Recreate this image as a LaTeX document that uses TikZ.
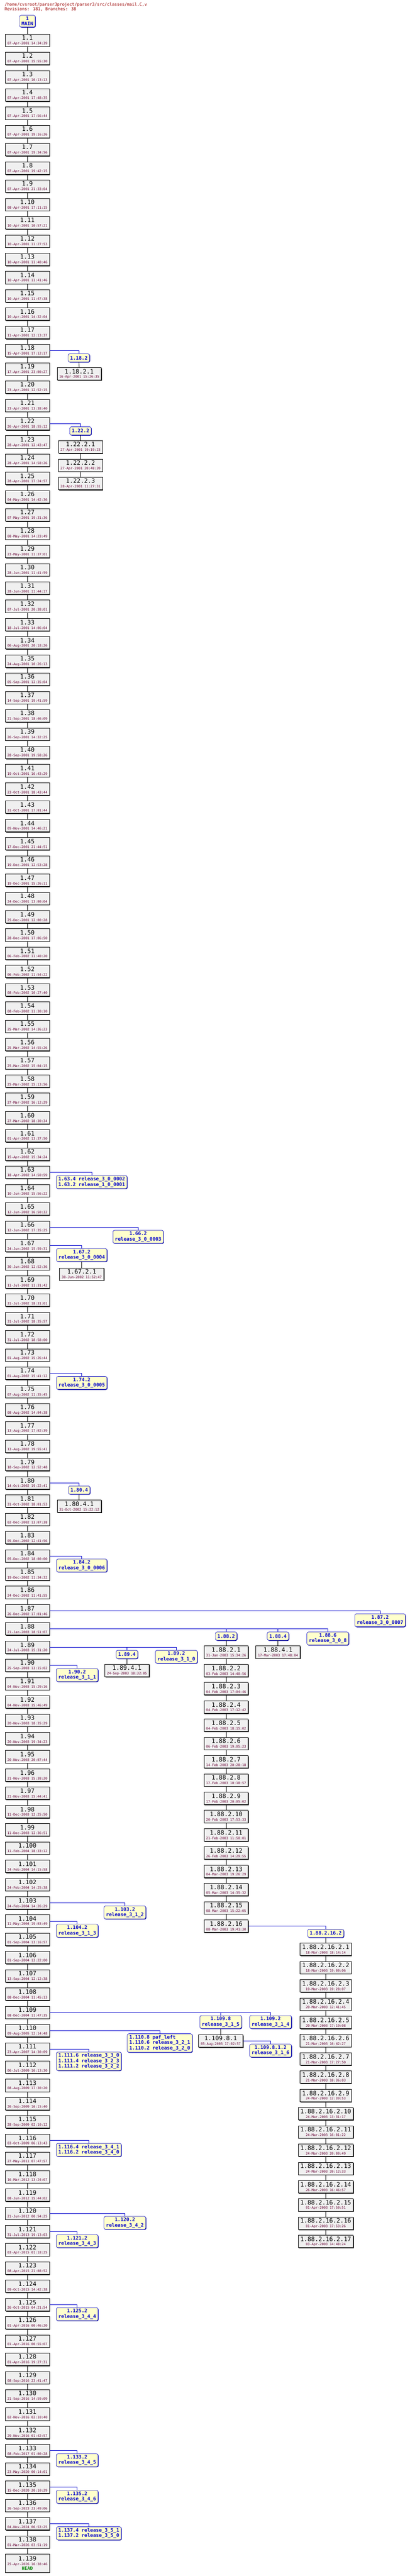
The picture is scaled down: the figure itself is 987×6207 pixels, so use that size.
\documentclass[tikz,border=0pt]{standalone}
\usepackage{fontspec}
\usetikzlibrary{shadows}
\newfontfamily\monof{DejaVu Sans Mono}
\definecolor{boxfill}{HTML}{F0F0F0}
\definecolor{datered}{HTML}{660033}
\definecolor{tagfill}{HTML}{FFFFCC}
\definecolor{tagblue}{HTML}{0000CC}
\definecolor{hdrred}{HTML}{990000}
\definecolor{headgreen}{HTML}{008000}
\tikzset{
  rev/.style={draw=black, line width=1pt, fill=boxfill, inner xsep=5pt, inner ysep=1pt,
    minimum height=30pt, align=center,
    drop shadow={shadow xshift=1.5pt, shadow yshift=-1.5pt, fill=black, opacity=1}},
  tag/.style={draw=tagblue, line width=0.8pt, fill=tagfill, rounded corners=4pt,
    inner xsep=5pt, inner ysep=3.5pt, minimum height=20pt, text=tagblue,
    font=\monof\bfseries\fontsize{11.6}{13}\selectfont,
    drop shadow={shadow xshift=1.2pt, shadow yshift=-1.2pt, fill=tagblue!70!black, opacity=1}},
  br/.style={draw=tagblue, line width=0.9pt},
  tr/.style={draw=black, line width=0.9pt}
}
\newcommand\revtxt[2]{{\monof\fontsize{14.5}{12}\selectfont #1}\\[-1pt]{\monof\fontsize{8}{8}\selectfont\color{datered}#2}}
\newcommand\rv[5]{\node[rev] (#1) at (#2,#3) {\revtxt{#4}{#5}};}
\begin{document}
\begin{tikzpicture}[x=1pt,y=-1pt]
\useasboundingbox (0,0) rectangle (987,6207);
\node[anchor=north west, align=left, text=hdrred, inner sep=0pt,
  font=\monof\fontsize{10}{12}\selectfont] (hdr) at (11,6)
  {/home/cvsroot/parser3project/parser3/src/classes/mail.C,v\\Revisions: 181, Branches: 38};
\node[tag, align=center] (main) at (66,51) {1\\MAIN};
\foreach \n/\d in {1/07-Apr-2001 14:34:39,2/07-Apr-2001 15:55:30,3/07-Apr-2001 16:13:13,4/07-Apr-2001 17:48:35,5/07-Apr-2001 17:56:44,6/07-Apr-2001 19:16:26,7/07-Apr-2001 19:34:56,8/07-Apr-2001 19:42:15,9/07-Apr-2001 21:33:04,10/08-Apr-2001 17:11:15,
11/10-Apr-2001 10:57:21,12/10-Apr-2001 11:27:53,13/10-Apr-2001 11:40:46,14/10-Apr-2001 11:41:46,15/10-Apr-2001 11:47:38,16/10-Apr-2001 14:32:04,17/11-Apr-2001 12:13:37,18/15-Apr-2001 17:12:17,19/17-Apr-2001 23:00:27,20/23-Apr-2001 12:52:15,
21/23-Apr-2001 13:38:40,22/26-Apr-2001 18:55:12,23/28-Apr-2001 12:43:47,24/28-Apr-2001 14:58:26,25/28-Apr-2001 17:24:57,26/04-May-2001 14:42:36,27/07-May-2001 19:31:36,28/08-May-2001 14:23:49,29/23-May-2001 11:37:01,30/28-Jun-2001 11:41:59,
31/28-Jun-2001 11:44:17,32/07-Jul-2001 20:38:01,33/18-Jul-2001 14:06:04,34/06-Aug-2001 20:18:26,35/24-Aug-2001 10:26:13,36/05-Sep-2001 12:35:04,37/14-Sep-2001 19:41:59,38/21-Sep-2001 18:46:09,39/26-Sep-2001 14:32:25,40/28-Sep-2001 19:58:26,
41/19-Oct-2001 16:43:29,42/23-Oct-2001 18:43:44,43/31-Oct-2001 17:01:44,44/05-Nov-2001 14:46:21,45/17-Dec-2001 21:44:51,46/19-Dec-2001 12:53:28,47/19-Dec-2001 15:26:11,48/24-Dec-2001 13:00:04,49/25-Dec-2001 12:00:28,50/28-Dec-2001 17:06:50,
51/06-Feb-2002 11:40:20,52/06-Feb-2002 11:54:22,53/08-Feb-2002 10:27:40,54/08-Feb-2002 11:30:10,55/25-Mar-2002 14:36:23,56/25-Mar-2002 14:55:26,57/25-Mar-2002 15:04:15,58/25-Mar-2002 15:13:56,59/27-Mar-2002 16:12:29,60/27-Mar-2002 18:30:34,
61/01-Apr-2002 13:37:50,62/15-Apr-2002 15:34:24,63/18-Apr-2002 14:50:59,64/10-Jun-2002 15:56:22,65/12-Jun-2002 16:50:32,66/12-Jun-2002 17:35:25,67/24-Jun-2002 15:59:31,68/30-Jun-2002 12:52:36,69/11-Jul-2002 11:31:42,70/31-Jul-2002 18:31:01,
71/31-Jul-2002 18:35:57,72/31-Jul-2002 18:58:00,73/01-Aug-2002 15:26:44,74/01-Aug-2002 15:41:12,75/07-Aug-2002 11:35:45,76/08-Aug-2002 14:04:38,77/13-Aug-2002 17:02:39,78/13-Aug-2002 19:55:41,79/18-Sep-2002 12:52:48,80/14-Oct-2002 19:22:41,
81/31-Oct-2002 18:01:53,82/02-Dec-2002 13:07:38,83/05-Dec-2002 12:41:56,84/05-Dec-2002 18:00:00,85/19-Dec-2002 11:34:32,86/24-Dec-2002 11:41:55,87/26-Dec-2002 17:01:46,88/21-Jan-2003 18:51:07,89/24-Jul-2003 15:31:20,90/25-Sep-2003 13:15:02,
91/04-Nov-2003 15:29:16,92/04-Nov-2003 15:46:49,93/20-Nov-2003 18:35:29,94/20-Nov-2003 19:34:23,95/20-Nov-2003 20:07:44,96/21-Nov-2003 15:38:20,97/21-Nov-2003 15:44:41,98/11-Dec-2003 12:25:50,99/11-Dec-2003 12:36:51,100/11-Feb-2004 18:33:12,
101/24-Feb-2004 14:15:58,102/24-Feb-2004 14:25:38,103/24-Feb-2004 14:26:29,104/11-May-2004 19:03:49,105/01-Sep-2004 13:16:57,106/01-Sep-2004 13:22:00,107/13-Sep-2004 12:12:38,108/08-Dec-2004 11:45:13,109/08-Dec-2004 11:47:35,110/09-Aug-2005 12:14:48,
111/23-Apr-2007 14:30:09,112/06-Jul-2009 16:13:30,113/08-Aug-2009 17:30:20,114/26-Sep-2009 16:15:40,115/28-Sep-2009 02:10:12,116/03-Oct-2009 06:13:43,117/27-May-2011 07:47:57,118/16-Mar-2012 13:24:07,119/08-Jun-2012 15:44:02,120/21-Jun-2012 00:54:25,
121/31-Jul-2013 19:13:03,122/03-Apr-2015 01:18:25,123/08-Apr-2015 21:08:52,124/09-Oct-2015 14:42:38,125/26-Oct-2015 04:21:54,126/01-Apr-2016 00:46:20,127/01-Apr-2016 00:55:07,128/01-Apr-2016 19:27:31,129/08-Sep-2016 23:41:47,130/21-Sep-2016 14:59:09,
131/02-Nov-2016 02:10:40,132/29-Nov-2016 01:42:57,133/08-Feb-2017 01:00:28,134/23-May-2020 00:14:01,135/15-Dec-2020 20:10:29,136/26-Sep-2023 23:49:06,137/04-Nov-2024 06:53:25,138/01-Mar-2026 03:51:19}
{ \pgfmathsetmacro\yy{97+(\n-1)*44}
  \node[rev] (r\n) at (66,\yy) {\revtxt{1.\n}{\d}}; }
\node[rev, anchor=north, minimum height=44pt] (r139) at (66,6154)
  {\revtxt{1.139}{25-Apr-2026 16:38:46}\\[-1pt]{\monof\bfseries\fontsize{11}{12}\selectfont\color{headgreen}HEAD}};
\draw[tr] (main.south) -- (r1.north);
\foreach \n [evaluate=\n as \m using int(\n+1)] in {1,...,138} { \draw[tr] (r\n.south) -- (r\m.north); }
% 1.18
\node[tag, anchor=north] (t18) at (190,852) {1.18.2};
\draw[br] (r18.east) -| (t18.north);
\rv{b18}{191}{901}{1.18.2.1}{16-Apr-2001 15:26:35}
\draw[tr] (t18.south) -- (b18.north);
% 1.22
\node[tag, anchor=north] (t22) at (194,1028) {1.22.2};
\draw[br] (r22.east) -| (t22.north);
\rv{b22a}{194}{1077}{1.22.2.1}{27-Apr-2001 19:19:23}
\rv{b22b}{194}{1121}{1.22.2.2}{27-Apr-2001 20:48:20}
\rv{b22c}{194}{1165}{1.22.2.3}{28-Apr-2001 11:27:31}
\draw[tr] (t22.south) -- (b22a.north) (b22a.south) -- (b22b.north) (b22b.south) -- (b22c.north);
% 1.63
\node[tag, anchor=north, align=left] (t63) at (221,2832) {1.63.4 release\_3\_0\_0002\\1.63.2 release\_1\_0\_0001};
\draw[br] (r63.east) -| (t63.north);
% 1.66
\node[tag, anchor=north, align=center] (t66) at (333,2964) {1.66.2\\release\_3\_0\_0003};
\draw[br] (r66.east) -| (t66.north);
% 1.67
\node[tag, anchor=north, align=center] (t67) at (197,3008) {1.67.2\\release\_3\_0\_0004};
\draw[br] (r67.east) -| (t67.north);
\rv{b67}{197}{3070}{1.67.2.1}{30-Jun-2002 11:52:47}
\draw[tr] (t67.south) -- (b67.north);
% 1.74
\node[tag, anchor=north, align=center] (t74) at (197,3316) {1.74.2\\release\_3\_0\_0005};
\draw[br] (r74.east) -| (t74.north);
% 1.80
\node[tag, anchor=north] (t80) at (191,3580) {1.80.4};
\draw[br] (r80.east) -| (t80.north);
\rv{b80}{191}{3629}{1.80.4.1}{31-Oct-2002 15:22:12}
\draw[tr] (t80.south) -- (b80.north);
% 1.84
\node[tag, anchor=north, align=center] (t84) at (197,3756) {1.84.2\\release\_3\_0\_0006};
\draw[br] (r84.east) -| (t84.north);
% 1.87
\node[tag, anchor=north, align=center] (t87) at (916,3888) {1.87.2\\release\_3\_0\_0007};
\draw[br] (r87.east) -| (t87.north);
% 1.88
\node[tag, anchor=north] (t88a) at (545,3932) {1.88.2};
\node[tag, anchor=north] (t88b) at (670,3932) {1.88.4};
\node[tag, anchor=north, align=center] (t88c) at (790,3932) {1.88.6\\release\_3\_0\_8};
\draw[br] (r88.east) -| (t88a.north);
\draw[br] (r88.east) -| (t88b.north);
\draw[br] (r88.east) -| (t88c.north);
\foreach \k/\d in {1/31-Jan-2003 15:34:26,2/03-Feb-2003 14:40:56,3/04-Feb-2003 17:04:46,4/04-Feb-2003 17:12:42,5/04-Feb-2003 18:15:02,6/06-Feb-2003 19:05:23,7/14-Feb-2003 20:28:18,8/17-Feb-2003 10:18:57,9/17-Feb-2003 20:05:02,10/20-Feb-2003 17:53:33,11/21-Feb-2003 11:50:01,12/26-Feb-2003 14:29:55,13/04-Mar-2003 19:26:29,14/05-Mar-2003 14:35:32,15/08-Mar-2003 15:22:05,16/08-Mar-2003 19:41:30}
{ \pgfmathsetmacro\yy{3981+(\k-1)*44}
  \node[rev] (c\k) at (545,\yy) {\revtxt{1.88.2.\k}{\d}}; }
\draw[tr] (t88a.south) -- (c1.north);
\foreach \n [evaluate=\n as \m using int(\n+1)] in {1,...,15} { \draw[tr] (c\n.south) -- (c\m.north); }
\rv{b884}{670}{3981}{1.88.4.1}{17-Mar-2003 17:48:04}
\draw[tr] (t88b.south) -- (b884.north);
% 1.88.2.16.2
\node[tag, anchor=north] (t8816) at (785,4648) {1.88.2.16.2};
\draw[br] (c16.east) -| (t8816.north);
\foreach \k/\d in {1/18-Mar-2003 18:14:14,2/18-Mar-2003 19:00:06,3/19-Mar-2003 19:28:07,4/20-Mar-2003 12:41:45,5/20-Mar-2003 17:19:08,6/21-Mar-2003 16:42:27,7/21-Mar-2003 17:27:50,8/21-Mar-2003 18:36:03,9/24-Mar-2003 12:39:53,10/24-Mar-2003 13:31:17,11/24-Mar-2003 16:01:22,12/24-Mar-2003 20:00:49,13/24-Mar-2003 20:12:33,14/26-Mar-2003 16:46:57,15/01-Apr-2003 17:50:51,16/01-Apr-2003 17:53:26,17/03-Apr-2003 14:48:24}
{ \pgfmathsetmacro\yy{4697+(\k-1)*44}
  \node[rev] (d\k) at (785,\yy) {\revtxt{1.88.2.16.2.\k}{\d}}; }
\draw[tr] (t8816.south) -- (d1.north);
\foreach \n [evaluate=\n as \m using int(\n+1)] in {1,...,16} { \draw[tr] (d\n.south) -- (d\m.north); }
% 1.89
\node[tag, anchor=north] (t89a) at (306,3976) {1.89.4};
\node[tag, anchor=north, align=center] (t89b) at (425,3976) {1.89.2\\release\_3\_1\_0};
\draw[br] (r89.east) -| (t89a.north);
\draw[br] (r89.east) -| (t89b.north);
\rv{b89}{306}{4025}{1.89.4.1}{24-Sep-2003 18:32:05}
\draw[tr] (t89a.south) -- (b89.north);
% 1.90
\node[tag, anchor=north, align=center] (t90) at (186,4020) {1.90.2\\release\_3\_1\_1};
\draw[br] (r90.east) -| (t90.north);
% 1.103, 1.104
\node[tag, anchor=north, align=center] (t103) at (301,4592) {1.103.2\\release\_3\_1\_2};
\draw[br] (r103.east) -| (t103.north);
\node[tag, anchor=north, align=center] (t104) at (186,4636) {1.104.2\\release\_3\_1\_3};
\draw[br] (r104.east) -| (t104.north);
% 1.109
\node[tag, anchor=north, align=center] (t109a) at (532,4856) {1.109.8\\release\_3\_1\_5};
\node[tag, anchor=north, align=center] (t109b) at (652,4856) {1.109.2\\release\_3\_1\_4};
\draw[br] (r109.east) -| (t109a.north);
\draw[br] (r109.east) -| (t109b.north);
\rv{b109}{532}{4918}{1.109.8.1}{05-Aug-2005 17:02:57}
\draw[tr] (t109a.south) -- (b109.north);
\node[tag, anchor=north, align=center] (t1098) at (652,4925) {1.109.8.1.2\\release\_3\_1\_6};
\draw[br] (b109.east) -| (t1098.north);
% 1.110, 1.111
\node[tag, anchor=north, align=left] (t110) at (385,4900) {1.110.8 paf\_left\\1.110.6 release\_3\_2\_1\\1.110.2 release\_3\_2\_0};
\draw[br] (r110.east) -| (t110.north);
\node[tag, anchor=north, align=left] (t111) at (214,4944) {1.111.6 release\_3\_3\_0\\1.111.4 release\_3\_2\_3\\1.111.2 release\_3\_2\_2};
\draw[br] (r111.east) -| (t111.north);
% 1.116
\node[tag, anchor=north, align=left] (t116) at (214,5164) {1.116.4 release\_3\_4\_1\\1.116.2 release\_3\_4\_0};
\draw[br] (r116.east) -| (t116.north);
% 1.120 - 1.137
\node[tag, anchor=north, align=center] (t120) at (301,5340) {1.120.2\\release\_3\_4\_2};
\draw[br] (r120.east) -| (t120.north);
\node[tag, anchor=north, align=center] (t121) at (186,5384) {1.121.2\\release\_3\_4\_3};
\draw[br] (r121.east) -| (t121.north);
\node[tag, anchor=north, align=center] (t125) at (186,5560) {1.125.2\\release\_3\_4\_4};
\draw[br] (r125.east) -| (t125.north);
\node[tag, anchor=north, align=center] (t133) at (186,5912) {1.133.2\\release\_3\_4\_5};
\draw[br] (r133.east) -| (t133.north);
\node[tag, anchor=north, align=center] (t135) at (186,6000) {1.135.2\\release\_3\_4\_6};
\draw[br] (r135.east) -| (t135.north);
\node[tag, anchor=north, align=left] (t137) at (214,6088) {1.137.4 release\_3\_5\_1\\1.137.2 release\_3\_5\_0};
\draw[br] (r137.east) -| (t137.north);
\end{tikzpicture}
\end{document}
